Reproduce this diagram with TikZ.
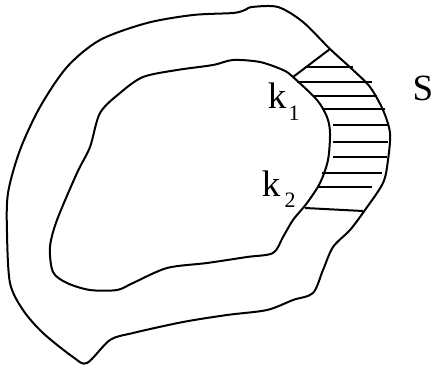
\documentclass[tikz,border=0pt]{standalone}
\usepackage{fontspec}
\setmainfont{Liberation Serif}
\begin{document}
\begin{tikzpicture}[x=1pt,y=-1pt,
  curve/.style={line width=2pt,line join=round},
  hatch/.style={line width=1.8pt},
  lbl/.style={inner sep=0pt,font=\fontsize{37}{37}\selectfont},
  sub/.style={inner sep=0pt,font=\fontsize{22}{22}\selectfont}]
\useasboundingbox (0,0) rectangle (433,367);
% outer boundary
\draw[curve] plot[smooth cycle,tension=0.5] coordinates {
 (252,7) (278,7) (303,22) (330,49) (353,70) (370,87) (383,110) (390,133)
 (388,160) (383,183) (365,210) (350,230) (333,247) (323,270) (313,293)
 (293,300) (267,310) (227,315) (183,322) (133,333) (110,340) (87,363)
 (73,357) (43,333) (23,310) (10,283) (7,233) (8,193) (20,150) (40,107)
 (67,67) (100,40) (147,23) (193,15) (233,13) (245,10)};
% inner boundary
\draw[curve] plot[smooth cycle,tension=0.5] coordinates {
 (283,70) (293,77) (317,100) (327,117) (330,133) (328,160) (320,183)
 (307,203) (293,220) (283,237) (273,253) (247,257) (207,263) (167,268)
 (133,283) (117,290) (90,290) (67,283) (53,272) (50,247) (57,220)
 (77,173) (90,147) (100,113) (120,93) (143,77) (177,70) (213,65)
 (233,60) (260,62)};
% ends of strip S
\coordinate (t1) at (293,77); \coordinate (t2) at (330,49);
\coordinate (b1) at (305,208); \coordinate (b2) at (363,211);
\draw[curve] (t1) -- (t2);
\draw[curve] (b1) -- (b2);
% hatching
\foreach \y/\a/\b in {67/305/353, 82/297/372, 96/313/377, 109/322/385,
  125/333/388, 142/333/388, 157/333/387, 173/322/382, 187/317/372}
  \draw[hatch] (\a,\y) -- (\b,\y);
% labels
\node[lbl] (k1) at (277,96) {k};
\node[sub] (k1s) at (294,113) {1};
\node[lbl] (k2) at (271,184) {k};
\node[sub] (k2s) at (290,200) {2};
\node[lbl] (S) at (423,88) {S};
\end{tikzpicture}
\end{document}
